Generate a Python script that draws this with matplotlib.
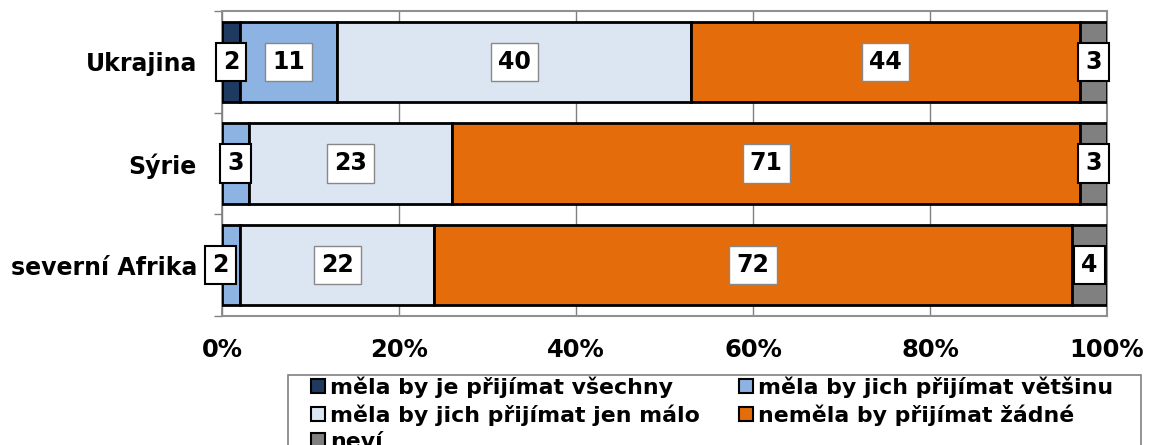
import matplotlib
matplotlib.use("Agg")
import matplotlib.pyplot as plt
from matplotlib.patches import Patch, Rectangle

categories = ["Ukrajina", "Sýrie", "severní Afrika"]
series_names = ["měla by je přijímat všechny", "měla by jich přijímat většinu",
                "měla by jich přijímat jen málo", "neměla by přijímat žádné", "neví"]
values = {
    "měla by je přijímat všechny": [2, 0, 0],
    "měla by jich přijímat většinu": [11, 3, 2],
    "měla by jich přijímat jen málo": [40, 23, 22],
    "neměla by přijímat žádné": [44, 71, 72],
    "neví": [3, 3, 4],
}
colors = ["#1F3A60", "#8DB3E2", "#DCE6F2", "#E46C0A", "#808080"]
xticklabels = ["0%", "20%", "40%", "60%", "80%", "100%"]

W, H = 1149, 445
fig = plt.figure(figsize=(W / 100, H / 100), dpi=100)
ax = fig.add_axes([222 / W, 1 - 316 / H, (1107 - 222) / W, (316 - 11) / H])

ypos = [2, 1, 0]
left = [0, 0, 0]
for name, col in zip(series_names, colors):
    vals = values[name]
    ax.barh(ypos, vals, left=left, height=0.79, color=col, edgecolor="black",
            linewidth=2, zorder=3)
    for y, l, v in zip(ypos, left, vals):
        if v > 0:
            small = v <= 4
            xc = l + v / 2
            if name == "měla by jich přijímat většinu" and y == 0:
                xc = -0.2
            ax.text(xc, y, str(v), ha="center", va="center", fontsize=17,
                    fontweight="bold", zorder=5,
                    bbox=dict(boxstyle="square,pad=0.3", fc="white",
                              ec="black" if small else "#888888", lw=1.5 if small else 1))
    left = [a + b for a, b in zip(left, vals)]

ax.set_xlim(0, 100)
ax.set_ylim(-0.5, 2.5)
ax.set_xticks([0, 20, 40, 60, 80, 100])
ax.set_xticklabels(xticklabels, fontsize=17.5, fontweight="bold")
ax.set_yticks(ypos)
ax.set_yticklabels(categories, fontsize=17, fontweight="bold")
ax.tick_params(axis="y", length=0, pad=18)
ax.tick_params(axis="x", length=0, pad=16)
ax.set_yticks([-0.5, 0.5, 1.5, 2.5], minor=True)
ax.tick_params(axis="y", which="minor", length=6, color="#808080", width=1)
ax.set_xticks([0, 20, 40, 60, 80, 100], minor=True)
ax.tick_params(axis="x", which="minor", length=6, color="#808080", width=1, direction="out")
ax.grid(axis="x", color="#808080", linewidth=1, zorder=0)
for s in ["top", "right", "bottom"]:
    ax.spines[s].set_color("#909090")
    ax.spines[s].set_linewidth(1.5)
ax.spines["left"].set_color("#808080")
ax.spines["left"].set_linewidth(1.2)

# legend frame (drawn separately, extends past figure bottom like the reference)
fig.patches.append(Rectangle((288 / W, -0.05), (1141 - 288) / W, (0.05 + 1 - 375 / H),
                             transform=fig.transFigure, fc="white", ec="#808080",
                             lw=1.2, zorder=1))

order = [0, 2, 4, 1, 3]
handles = [Patch(facecolor=colors[i], edgecolor="black", linewidth=1.5) for i in order]
labels = [series_names[i] for i in order]
leg = fig.legend(handles, labels, loc="upper left",
                 bbox_to_anchor=(311 / W, 1 - 376 / H), ncol=2,
                 prop=dict(size=15.8, weight="bold"),
                 frameon=False, handlelength=0.62, handleheight=0.62,
                 handletextpad=0.23, columnspacing=1.8, labelspacing=0.3,
                 borderpad=0, borderaxespad=0)
leg.set_zorder(2)

fig.savefig("out.png", dpi=100)
